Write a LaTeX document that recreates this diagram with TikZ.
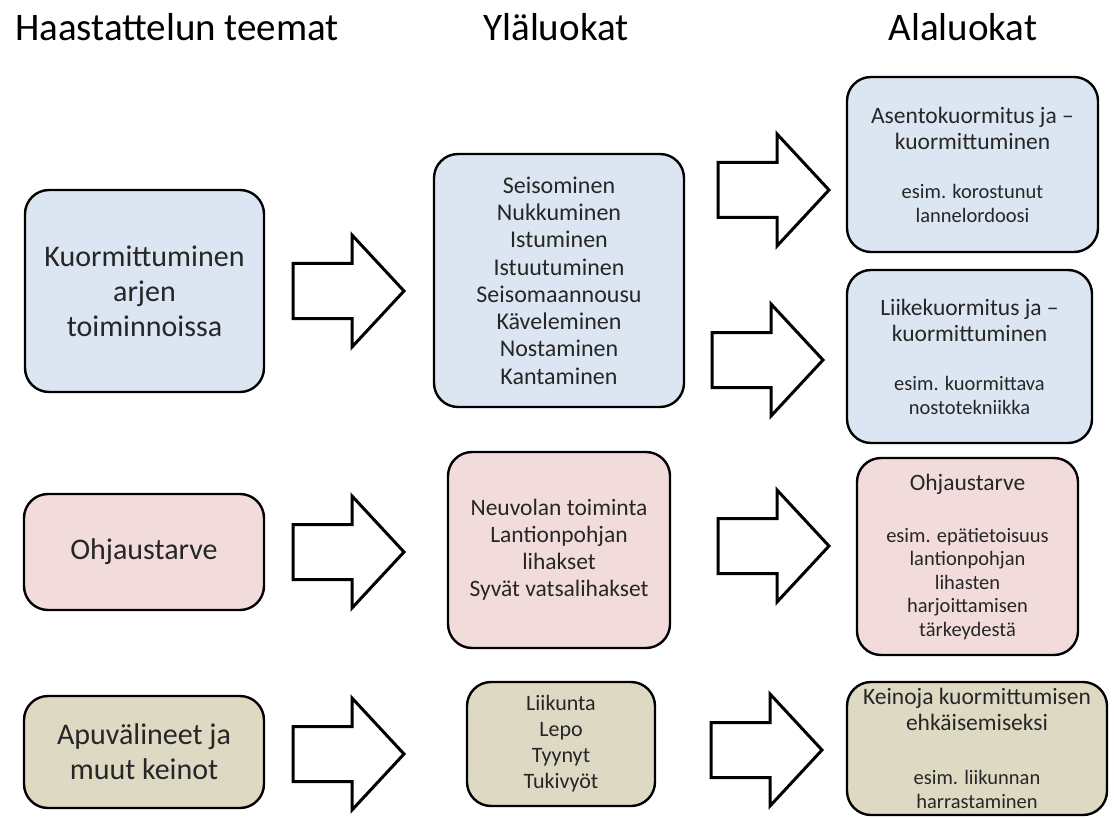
\documentclass[tikz,border=0pt]{standalone}
\usepackage{fontspec}
\setmainfont{Carlito}
\usetikzlibrary{positioning}
\definecolor{boxblue}{RGB}{220,230,242}
\definecolor{boxpink}{RGB}{242,220,219}
\definecolor{boxtan}{RGB}{221,217,195}

\tikzset{
    themebox/.style={draw=black, line width=2.4pt, rounded corners=24pt, align=center, inner sep=0pt, text=black!85},
    heading/.style={anchor=base, font=\fsz{39}{39}, text=black},
    bigarrow/.pic={
        \draw[line width=3pt, fill=white, line join=miter]
            (0,-27.5) -- (59,-27.5) -- (59,-56) -- (111,0) -- (59,56) -- (59,27.5) -- (0,27.5) -- cycle;
    }
}
\newcommand{\fsz}[2]{\fontsize{#1}{#2}\selectfont}

\begin{document}
\begin{tikzpicture}[x=1pt, y=-1pt]
    \useasboundingbox (0,0) rectangle (1116,818);

    % column headings
    \node[heading] (hteemat) at (177,41) {Haastattelun teemat};
    \node[heading] (hyla) at (556,41) {Yläluokat};
    \node[heading] (hala) at (963,41) {Alaluokat};

    % haastattelun teemat
    \node[themebox, fill=boxblue, minimum width=239pt, minimum height=202pt, font=\fsz{30}{35}] (kuorm) at (144.5,291) {Kuormittuminen\\arjen\\toiminnoissa};
    \node[themebox, fill=boxpink, minimum width=240pt, minimum height=116pt, font=\fsz{30}{35}] (ohjaus) at (144,552) {Ohjaustarve};
    \node[themebox, fill=boxtan, minimum width=240pt, minimum height=112pt, font=\fsz{30}{35}] (apuv) at (144,752) {Apuvälineet ja\\muut keinot};

    % yläluokat
    \node[themebox, fill=boxblue, minimum width=250pt, minimum height=253pt, font=\fsz{24}{27.3}] (toimet) at (559,280.5) {Seisominen\\Nukkuminen\\Istuminen\\Istuutuminen\\Seisomaannousu\\Käveleminen\\Nostaminen\\Kantaminen};
    \node[themebox, fill=boxpink, minimum width=222pt, minimum height=196pt, font=\fsz{23.5}{27}] (neuvola) at (559,550) {Neuvolan toiminta\\Lantionpohjan\\lihakset\\Syvät vatsalihakset};
    \node[themebox, fill=boxtan, minimum width=188pt, minimum height=124pt, font=\fsz{22}{26}] (keinot) at (561,744) {Liikunta\\Lepo\\Tyynyt\\Tukivyöt};

    % alaluokat
    \node[themebox, fill=boxblue, minimum width=251pt, minimum height=175pt, font=\fsz{20.5}{24}] (asento) at (972.5,164.5)
        {{\fsz{23.5}{26}Asentokuormitus ja –}\\[2pt]{\fsz{23.5}{26}kuormittuminen}\\[25pt]esim. korostunut\\lannelordoosi};
    \node[themebox, fill=boxblue, minimum width=245pt, minimum height=173pt, font=\fsz{20.5}{24}] (liike) at (969.5,356.5)
        {{\fsz{23.5}{26}Liikekuormitus ja –}\\[2pt]{\fsz{23.5}{26}kuormittuminen}\\[25pt]esim. kuormittava\\nostotekniikka};
    \node[themebox, fill=boxpink, minimum width=221pt, minimum height=197pt, font=\fsz{20.5}{23.5}] (ohjala) at (967.5,556.5)
        {{\fsz{23.5}{26}Ohjaustarve}\\[28.5pt]esim. epätietoisuus\\lantionpohjan\\lihasten\\harjoittamisen\\tärkeydestä};
    \node[themebox, fill=boxtan, minimum width=260pt, minimum height=133pt, font=\fsz{20.5}{23.5}] (ehkais) at (977,748.5)
        {{\fsz{23.5}{26}Keinoja kuormittumisen}\\[2.5pt]{\fsz{23.5}{26}ehkäisemiseksi}\\[30.5pt]esim. liikunnan\\harrastaminen};

    % nuolet
    \pic at (293,291) {bigarrow};
    \pic at (718,190) {bigarrow};
    \pic at (712,360) {bigarrow};
    \pic at (293,552) {bigarrow};
    \pic at (718,546) {bigarrow};
    \pic at (293,754) {bigarrow};
    \pic at (711,750) {bigarrow};
\end{tikzpicture}
\end{document}
